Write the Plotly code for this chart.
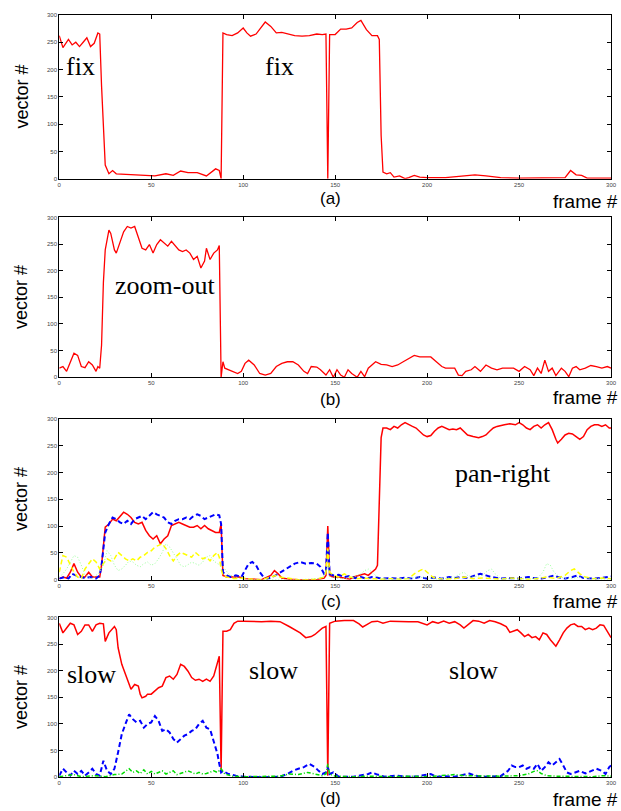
import plotly.graph_objects as go

# ---------------- data ----------------
# panel (a) red
a_f = [0,2,5,7,9,11,13,15,17,19,21,22,23,24,25,27,29,31,35,40,47,52,58,62,66,70,75,80,85,87,88,89,91,94,97,100,102,104,107,110,112,115,118,121,124,128,132,136,140,143,145,146,147,150,153,156,159,162,164,167,170,173,174,175,176,178,180,182,185,188,190,193,196,200,210,222,226,232,240,250,260,275,278,281,284,287,300]
a_v = [262,240,255,245,250,242,250,258,242,248,267,265,170,79,25,9,15,9,8,7,6,5,9,6,14,11,11,5,18,15,0,267,264,262,267,276,267,261,265,279,287,279,267,268,265,262,261,262,265,264,265,0,264,264,274,274,276,286,290,273,262,262,255,79,12,9,11,3,5,0,2,6,3,2,2,6,7,5,2,1,1,2,15,7,6,1,1]

# panel (b) red
b_f = [0,2,4,6,8,10,12,14,16,18,20,21,22,23,24,25,27,28,30,31,33,35,37,39,41,43,45,47,49,51,53,55,57,59,61,63,65,67,69,71,73,75,77,79,80,82,84,86,87,88,89,90,92,95,97,99,101,103,106,109,112,115,118,121,124,127,130,133,135,137,140,142,145,147,149,151,153,155,157,159,162,164,166,168,170,172,175,178,181,184,187,190,193,196,199,202,205,208,210,213,215,217,219,221,224,226,229,232,235,238,241,244,247,250,253,256,258,260,262,264,266,268,270,273,275,277,279,281,283,286,289,292,295,298,300]
b_v = [17,20,11,29,45,41,20,18,29,23,11,20,17,60,178,239,276,270,239,233,252,273,283,280,283,264,242,239,249,233,249,258,252,246,255,246,239,236,239,233,221,227,205,218,242,221,233,239,247,0,29,17,14,11,7,11,26,32,23,7,4,7,20,26,29,29,23,11,7,20,19,14,4,14,0,14,4,0,14,7,0,11,1,17,23,29,24,23,20,23,29,35,41,38,38,38,29,20,17,17,17,4,3,11,14,20,11,23,17,14,17,17,17,11,20,14,3,17,7,32,11,17,3,17,11,1,17,20,14,17,22,20,17,20,17]

# panel (c) red
c_red_f = [0,2,4,6,8,10,12,14,16,18,20,22,23,24,25,27,29,31,33,35,37,39,41,43,45,47,49,51,53,55,57,59,61,63,65,67,69,71,73,75,77,79,81,83,85,87,88,89,91,95,98,100,105,110,115,117,119,121,125,130,140,144,145,146,147,149,152,155,158,160,163,166,168,170,172,173,174,175,176,178,180,182,184,186,188,190,192,194,196,198,200,202,204,206,208,210,212,214,216,218,220,222,225,228,230,232,234,236,238,240,242,245,248,250,252,254,256,258,260,262,264,266,268,270,271,273,275,277,279,281,283,285,287,289,291,293,295,297,299,300]
c_red_v = [2,5,3,14,30,14,5,5,14,5,5,5,27,70,98,104,113,110,119,126,122,116,107,104,107,92,82,76,82,67,76,82,101,104,107,104,101,98,98,101,95,101,95,92,88,88,104,8,5,5,5,2,1,0,8,17,11,3,1,0,0,3,8,100,8,5,5,3,1,5,8,11,8,14,20,27,132,265,283,283,280,286,283,289,293,289,286,283,277,270,267,269,277,283,286,283,280,281,280,283,277,270,267,265,267,270,277,283,286,288,289,291,289,293,289,283,280,286,289,283,289,293,280,262,255,262,270,273,272,267,262,267,280,286,289,289,286,289,283,283]

# panel (c) blue
c_blue_f = [0,3,5,7,9,12,14,17,20,22,23,24,25,27,29,31,33,35,37,39,41,43,45,47,49,51,53,55,57,59,61,63,65,67,69,71,73,75,77,79,81,83,85,87,88,89,91,93,96,99,101,103,105,107,109,111,113,116,119,122,125,128,131,134,137,140,142,144,145,146,147,149,152,155,158,161,164,167,170,173,176,180,184,188,192,196,200,204,208,212,215,218,222,226,229,232,235,240,245,250,255,258,262,266,269,271,275,279,282,285,290,294,298,300]
c_blue_v = [2,5,2,11,8,5,3,5,2,8,27,58,88,104,116,113,107,104,110,104,113,116,119,113,119,126,122,119,116,107,104,110,113,113,116,113,119,122,119,113,116,119,122,120,104,14,8,5,8,5,17,30,33,27,14,5,2,5,11,17,24,30,33,30,31,30,24,11,14,88,11,8,9,5,7,3,5,2,5,3,2,3,2,4,2,5,2,4,2,5,3,5,3,8,11,8,5,2,3,2,5,3,2,5,8,5,2,5,8,3,2,3,5,6]

# panel (c) yellow
c_yel_f = [0,2,4,6,8,10,12,14,16,18,20,22,24,26,28,30,32,34,36,38,40,42,44,46,48,50,52,54,56,58,60,62,64,66,68,70,72,74,76,78,80,82,84,86,87,88,89,91,95,100,105,110,115,118,120,125,130,135,140,144,145,146,147,149,152,155,158,162,165,170,175,180,185,190,193,196,198,200,203,206,210,215,220,225,230,235,240,245,250,255,260,265,270,275,278,280,283,286,290,295,300]
c_yel_v = [14,45,42,27,14,5,2,20,30,39,33,20,30,39,35,39,51,45,39,35,39,35,42,45,51,54,61,64,67,58,45,35,45,51,48,45,42,51,45,39,42,35,45,51,42,20,8,5,2,3,1,0,5,8,5,2,0,0,1,5,14,58,14,8,5,11,5,2,3,2,1,2,1,2,11,17,20,14,5,2,1,2,5,2,3,2,1,3,2,1,2,5,2,8,17,20,11,5,2,3,2]

# panel (c) green
c_grn_f = [0,2,4,6,8,10,12,14,16,18,20,22,24,26,28,30,32,34,36,38,40,42,44,46,48,50,52,54,56,58,60,62,64,66,68,70,72,74,76,78,80,82,84,86,88,90,92,95,100,110,120,130,140,144,146,147,150,155,160,164,166,168,170,172,175,180,190,195,200,205,210,215,218,220,222,225,230,233,235,237,240,250,260,263,265,267,269,272,276,280,285,290,300]
c_grn_v = [5,11,20,33,45,42,27,8,5,2,8,14,27,54,45,27,17,20,27,35,33,27,24,30,33,27,30,39,51,67,61,51,39,27,24,28,33,30,27,33,42,45,35,30,27,20,11,5,1,0,0,0,2,5,27,5,3,2,5,11,17,20,14,8,2,1,2,5,3,1,2,5,11,14,8,5,8,17,20,11,2,1,3,14,30,27,14,5,2,3,5,2,1]

# panel (d) red
d_red_f = [0,2,4,6,8,10,12,14,16,18,20,22,24,25,27,29,30,31,32,34,36,38,39,41,43,44,45,47,48,50,52,54,56,58,60,62,64,66,68,70,72,74,76,78,80,82,84,86,87,88,89,91,93,95,97,100,105,110,115,120,125,128,131,134,137,139,141,143,145,146,147,150,155,160,163,165,167,170,173,176,180,185,190,195,200,203,206,209,212,215,218,220,222,225,228,231,234,237,240,243,245,247,249,251,253,255,257,259,261,263,265,267,269,270,272,274,276,278,280,282,284,286,288,290,292,294,296,298,300]
d_red_v = [289,271,280,289,286,268,274,286,286,274,286,289,288,255,271,280,283,277,243,212,193,177,165,174,171,156,149,152,156,156,162,168,171,187,190,184,193,212,208,199,187,182,184,180,184,180,190,212,227,12,274,274,277,289,293,293,292,292,293,292,283,277,271,262,264,268,274,280,283,3,289,293,294,294,288,282,286,292,293,289,293,292,292,292,286,292,289,293,289,292,286,280,286,294,293,289,294,292,288,283,272,274,277,271,264,268,262,264,258,271,268,258,249,246,258,271,280,286,288,283,283,277,280,277,280,286,285,274,262]

# panel (d) blue
d_blue_f = [0,2,4,6,8,10,12,14,16,18,20,22,24,26,28,30,32,34,36,38,40,42,44,46,48,50,52,54,56,58,60,62,64,66,68,70,72,74,76,78,80,82,84,86,87,88,89,92,96,100,110,120,124,127,130,133,136,139,141,143,145,146,147,149,152,160,168,170,173,177,183,190,195,200,202,205,210,215,220,223,226,230,240,244,246,248,250,252,254,256,258,260,262,264,266,268,270,272,274,276,278,280,283,286,289,292,295,297,299,300]
d_blue_v = [3,16,9,3,12,6,12,3,9,16,6,3,31,12,6,16,47,81,100,118,109,103,106,93,100,103,115,106,87,90,84,72,65,72,78,81,87,90,100,106,93,90,68,44,25,9,12,6,3,1,0,1,6,12,16,19,25,19,12,6,9,19,6,9,1,1,6,9,5,1,3,1,2,5,6,1,2,1,4,7,3,1,2,12,22,19,19,22,16,19,16,25,12,19,28,22,28,34,22,9,6,9,12,7,12,16,12,6,19,22]

# panel (d) green
d_grn_f = [0,4,8,12,16,20,25,30,34,38,40,42,44,46,48,50,52,54,56,58,60,62,64,66,68,70,72,74,76,78,80,82,84,86,88,90,94,100,110,120,125,130,135,140,143,145,146,147,150,160,170,180,190,200,210,215,220,230,240,250,255,258,260,262,265,270,280,290,296,300]
d_grn_v = [1,3,5,1,2,3,1,5,6,16,9,12,7,14,6,11,6,9,12,6,9,12,5,7,9,12,9,6,9,6,7,9,12,9,16,6,2,1,1,2,6,5,9,6,3,6,25,6,2,1,2,1,2,1,3,5,3,2,2,3,6,11,12,7,3,2,2,1,3,2]

tick_vals = [0, 50, 100, 150, 200, 250, 300]
tick_text = ["0", "50", "100", "150", "200", "250", "300"]
panel_letters = ["(a)", "(b)", "(c)", "(d)"]

# ---------------- figure ----------------
W, H = 621, 811
fig = go.Figure()

# panel pixel boxes (top, bottom)
boxes = [(12, 177), (216, 377), (419, 581), (619, 780)]
x_left, x_right = 58, 617

RED = "#ff0000"
BLUE = "#0000ff"
YEL = "#ffff00"
LGRN = "#99ff99"
GRN = "#00dd00"

def add(xs, ys, idx, color, dash="solid", width=1.3):
    ax = "" if idx == 1 else str(idx)
    fig.add_trace(go.Scatter(x=xs, y=ys, mode="lines",
                             line=dict(color=color, dash=dash, width=width),
                             xaxis="x" + ax, yaxis="y" + ax, showlegend=False,
                             hoverinfo="skip"))

add(a_f, a_v, 1, RED)
add(b_f, b_v, 2, RED)
add(c_red_f, c_red_v, 3, RED, width=1.5)
add(c_blue_f, c_blue_v, 3, BLUE, dash="5px,3px", width=2)
add(c_yel_f, c_yel_v, 3, YEL, dash="5px,3px", width=1.5)
add(c_grn_f, c_grn_v, 3, LGRN, dash="1px,2px", width=1)
add(d_red_f, d_red_v, 4, RED, width=1.5)
add(d_blue_f, d_blue_v, 4, BLUE, dash="5px,3px", width=2)
add(d_grn_f, d_grn_v, 4, GRN, dash="4px,2px,1px,2px", width=1.5)

layout = dict(width=W, height=H, margin=dict(l=0, r=0, t=0, b=0),
              paper_bgcolor="white", plot_bgcolor="white", showlegend=False)

axis_common = dict(range=[0, 300], showgrid=False, zeroline=False,
                   showline=True, linecolor="black", linewidth=1, mirror="allticks",
                   ticks="inside", ticklen=4, tickcolor="black", tickwidth=1,
                   tickvals=tick_vals, ticktext=tick_text, ticklabeloverflow="allow",
                   tickfont=dict(family="Liberation Sans, Arial", size=6, color="#444"))

annotations = []
for i, (top, bot) in enumerate(boxes, start=1):
    ax = "" if i == 1 else str(i)
    ydom = [1 - bot / H, 1 - top / H]
    xdom = [x_left / W, x_right / W]
    layout["xaxis" + ax] = dict(axis_common, domain=xdom, anchor="y" + ax)
    layout["yaxis" + ax] = dict(axis_common, domain=ydom, anchor="x" + ax)
    mid = (top + bot) / 2
    annotations.append(dict(text="vector #", xref="paper", yref="paper",
                            x=20 / W, y=1 - mid / H, textangle=-90, showarrow=False,
                            xanchor="center", yanchor="middle",
                            font=dict(family="Liberation Sans, Arial", size=18, color="black")))

label_y = [197, 399, 603, 801]
frame_y = [200, 397, 603, 802]
for i in range(4):
    annotations.append(dict(text=panel_letters[i], xref="paper", yref="paper",
                            x=333 / W, y=1 - label_y[i] / H, showarrow=False,
                            xanchor="center", yanchor="middle",
                            font=dict(family="Liberation Sans, Arial", size=17, color="black")))
    annotations.append(dict(text="frame #", xref="paper", yref="paper",
                            x=556 / W, y=1 - frame_y[i] / H, showarrow=False,
                            xanchor="left", yanchor="middle",
                            font=dict(family="Liberation Sans, Arial", size=19, color="black")))

serif = dict(family="Liberation Serif, Times New Roman", size=26, color="black")
labels = [("fix", 2.5, 206, 1), ("fix", 111, 206, 1), ("zoom-out", 29, 173, 2),
          ("pan-right", 214, 198, 3), ("slow", 3, 192, 4), ("slow", 102, 200, 4),
          ("slow", 211, 200, 4)]
for txt, fx, vy, idx in labels:
    ax = "" if idx == 1 else str(idx)
    annotations.append(dict(text=txt, xref="x" + ax, yref="y" + ax, x=fx, y=vy,
                            showarrow=False, xanchor="left", yanchor="middle", font=serif))

layout["annotations"] = annotations
fig.update_layout(**layout)
fig.write_html("out.html", config={"displayModeBar": False},
               post_script="document.body.style.margin='0';document.body.style.overflow='hidden';")
